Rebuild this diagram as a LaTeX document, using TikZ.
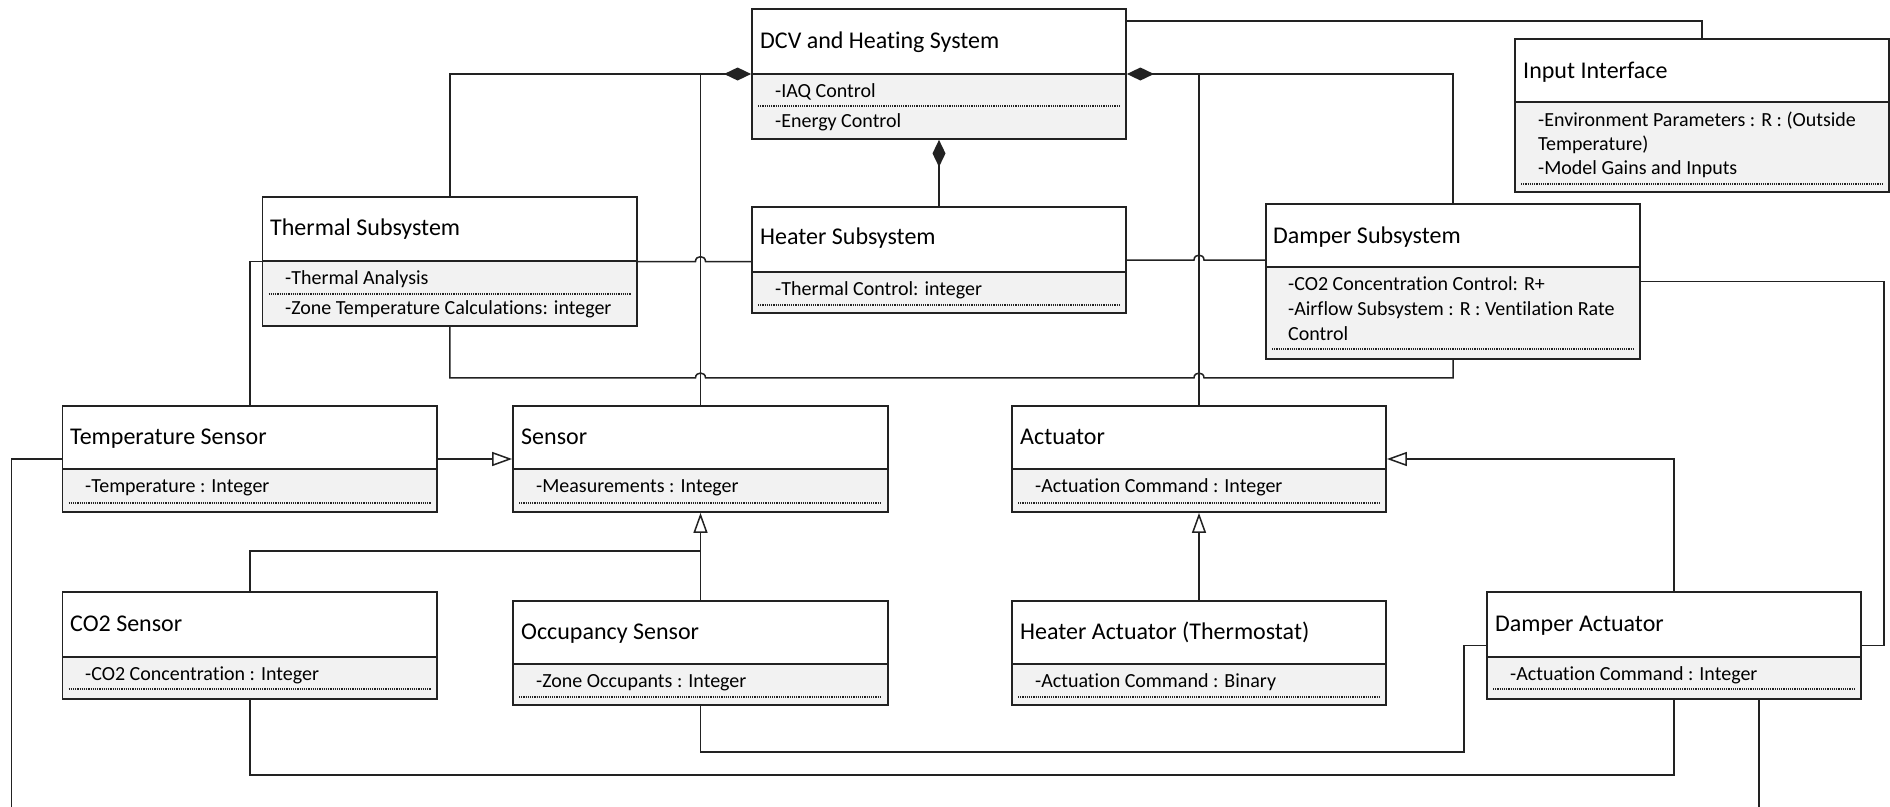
\documentclass[tikz,border=0pt]{standalone}
\usepackage{fontspec}
\setmainfont[Ligatures=NoCommon]{Carlito}
\usetikzlibrary{arrows.meta,calc,fit}

\definecolor{linecol}{HTML}{222222}
\definecolor{attrgray}{HTML}{F2F2F2}

\tikzset{
  classbox/.style={draw=linecol, line width=1.8pt, inner sep=0pt},
  attrarea/.style={fill=attrgray},
  divider/.style={draw=linecol, line width=1.8pt},
  sepline/.style={draw=linecol, line width=1.2pt, dash pattern=on 1.2pt off 1pt},
  titletext/.style={anchor=base west, inner sep=0pt, font=\fontsize{24}{28}\selectfont, text=black},
  attrtext/.style={anchor=base west, inner sep=0pt, font=\fontsize{20}{24}\selectfont, text=black},
  conn/.style={draw=linecol, line width=1.5pt},
  compose/.style={conn, -{Diamond[length=27pt,width=13pt]}},
  inherit/.style={conn, -{Triangle[open,fill=white,length=20pt,width=14pt]}},
  hop/.style={insert path={-- ($(#1)+(-5,0)$) .. controls +(0,-6.5) and +(0,-6.5) .. ($(#1)+(5,0)$)}},
}

% class box: name, left, top, right, divider, bottom
\newcommand{\umlclass}[6]{%
  \fill[attrarea] (#2,#5) rectangle (#4,#6);
  \node[classbox, fit={(#2,#3) (#4,#6)}] (#1) {};
  \draw[divider] (#2,#5) -- (#4,#5);
}
% dotted separator: left, right, y
\newcommand{\sep}[3]{\draw[sepline] (#1+6,#3) -- (#2-6,#3);}

\begin{document}
\begin{tikzpicture}[x=1pt,y=-1pt]
\fill[white] (0,0) rectangle (1890,806);
\useasboundingbox (0,0) rectangle (1890,806);

% ---------- classes ----------
\umlclass{dcv}{752}{9}{1126}{74}{139}
\node[titletext] at (760,48) {DCV and Heating System};
\node[attrtext] at (775,97) {-IAQ Control};
\sep{752}{1126}{106}
\node[attrtext] at (775,127) {-Energy Control};

\umlclass{thermal}{262.5}{197}{637}{261}{326}
\node[titletext] at (270,235) {Thermal Subsystem};
\node[attrtext] at (285,284) {-Thermal Analysis};
\sep{262.5}{637}{294}
\node[attrtext] at (285,314) {-Zone Temperature Calculations: integer};

\umlclass{heater}{752}{207}{1126}{272}{313}
\node[titletext] at (760,244) {Heater Subsystem};
\node[attrtext] at (775,295) {-Thermal Control: integer};
\sep{752}{1126}{305}

\umlclass{input}{1515}{39}{1889}{102}{192}
\node[titletext] at (1523,78) {Input Interface};
\node[attrtext] at (1538,126) {-Environment Parameters : R : (Outside};
\node[attrtext] at (1538,150) {Temperature)};
\node[attrtext] at (1538,174) {-Model Gains and Inputs};
\sep{1515}{1889}{184}

\umlclass{dampersub}{1266}{204}{1640}{267}{359}
\node[titletext] at (1273,243) {Damper Subsystem};
\node[attrtext] at (1288,290) {-CO2 Concentration Control: R+};
\node[attrtext] at (1288,315) {-Airflow Subsystem : R : Ventilation Rate};
\node[attrtext] at (1288,340) {Control};
\sep{1266}{1640}{349}

\umlclass{temp}{62.5}{406}{437}{469}{512}
\node[titletext] at (70,444) {Temperature Sensor};
\node[attrtext] at (85,492) {-Temperature : Integer};
\sep{62.5}{437}{503}

\umlclass{sensor}{513}{406}{888}{469}{512}
\node[titletext] at (521,444) {Sensor};
\node[attrtext] at (536,492) {-Measurements : Integer};
\sep{513}{888}{503}

\umlclass{actuator}{1012}{406}{1386}{469}{512}
\node[titletext] at (1020,444) {Actuator};
\node[attrtext] at (1035,492) {-Actuation Command : Integer};
\sep{1012}{1386}{503}

\umlclass{co2}{62.5}{592}{437}{657}{699}
\node[titletext] at (70,631) {CO2 Sensor};
\node[attrtext] at (85,680) {-CO2 Concentration : Integer};
\sep{62.5}{437}{689}

\umlclass{occ}{513}{601}{888}{664}{705}
\node[titletext] at (521,639) {Occupancy Sensor};
\node[attrtext] at (536,687) {-Zone Occupants : Integer};
\sep{513}{888}{697}

\umlclass{heateract}{1012}{601}{1386}{664}{705}
\node[titletext] at (1020,639) {Heater Actuator (Thermostat)};
\node[attrtext] at (1035,687) {-Actuation Command : Binary};
\sep{1012}{1386}{697}

\umlclass{damperact}{1487}{592}{1861}{657}{699}
\node[titletext] at (1495,631) {Damper Actuator};
\node[attrtext] at (1510,680) {-Actuation Command : Integer};
\sep{1487}{1861}{689}

% ---------- compositions into the system ----------
\draw[compose] (thermal.north) |- (dcv.west);
\draw[conn] (sensor.north) -- (sensor.north |- dcv.west);
\draw[compose] (dampersub.north) |- (dcv.east);
\draw[conn] (actuator.north) -- (actuator.north |- dcv.east);
\draw[compose] (heater.north) -- (dcv.south);

% ---------- association with the input interface ----------
\draw[conn] ($(dcv.north east)+(0,13)$) -| (input.north);

% ---------- associations between subsystems (with line hops) ----------
\coordinate (hopA) at (sensor.north |- thermal.east);
\coordinate (hopB) at (actuator.north |- heater.east);
\draw[conn] (thermal.east) [hop=hopA] -- (hopA -| heater.west);
\draw[conn] (heater.east) [hop=hopB] -- (heater.east -| dampersub.west);
\coordinate (bus) at ($(thermal.south)+(0,51)$);
\coordinate (hopC) at (sensor.north |- bus);
\coordinate (hopD) at (actuator.north |- bus);
\draw[conn] (thermal.south) -- (bus) [hop=hopC] [hop=hopD] -| (dampersub.south);
\draw[conn] (thermal.west) -| (temp.north);

% ---------- generalisations ----------
\draw[inherit] (temp.east) -- (sensor.west);
\draw[inherit] (occ.north) -- (sensor.south);
\coordinate (sj) at ($(sensor.south)+(0,38)$);
\draw[conn] (co2.north) |- (sj);
\draw[inherit] (heateract.north) -- (actuator.south);
\draw[inherit] (damperact.north) |- (actuator.east);

% ---------- links to the damper actuator ----------
\draw[conn] (dampersub.east) -- ++(243,0) |- (damperact.east);
\draw[conn] (occ.south) -- ++(0,46) -| ($(damperact.west)+(-22,0)$) -- (damperact.west);
\draw[conn] (co2.south) -- ++(0,75) -| (damperact.south);
\draw[conn] ($(damperact.south)+(85,0)$) -- ++(0,110);
\draw[conn] (temp.west) -- ++(-50,0) -- ++(0,400);
\end{tikzpicture}
\end{document}
